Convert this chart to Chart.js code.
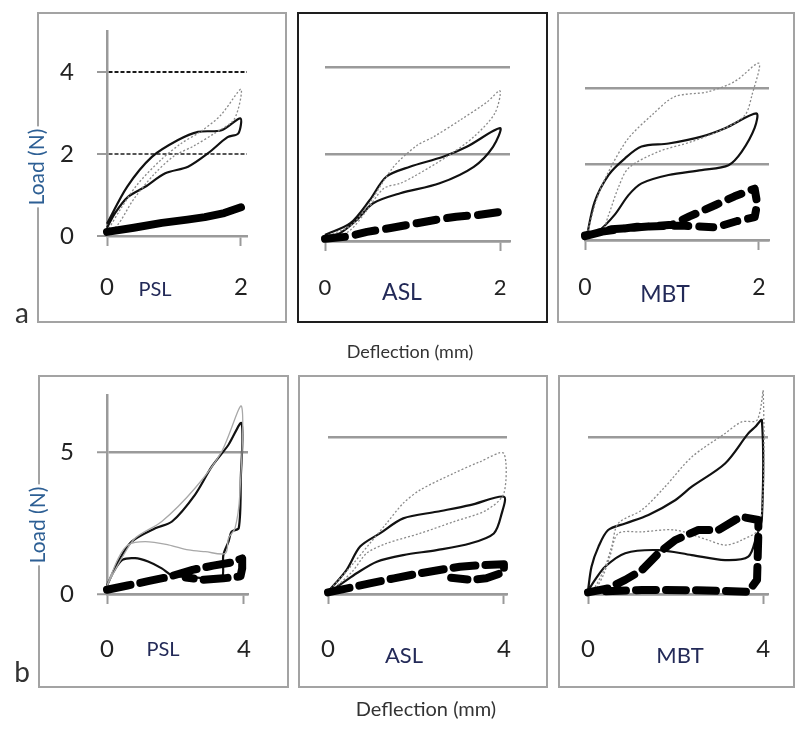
<!DOCTYPE html>
<html>
<head>
<meta charset="utf-8">
<script src="https://cdn.jsdelivr.net/npm/chart.js@4.4.1/dist/chart.umd.min.js"></script>
<style>
body { margin: 0; background: #fff; font-family: Lato, "Open Sans", sans-serif; }
#fig { position: relative; width: 795px; height: 729px; overflow: hidden; background: #fff; }
.box { position: absolute; border: 2px solid #a3a3a3; box-sizing: border-box; }
.box.dark { border-color: #1e1e1e; }
canvas { position: absolute; }
.lbl { position: absolute; white-space: nowrap; transform: translate(-50%, -50%); line-height: 1; }
</style>
</head>
<body>
<div id="fig"></div>
<script>
// load (N) vs deflection (mm): [deflection, load]
// row a: 2 mm cycles
const psl2Gray = [[0,0.1],[0.2,0.65],[0.45,1.25],[0.8,1.85],[1.1,2.25],[1.4,2.55],[1.7,2.95],[2.0,3.58],[1.9,2.85],[1.6,2.5],[1.3,2.2],[1.0,1.95],[0.7,1.5],[0.4,0.9],[0.15,0.25],[0,0.1]];
const psl2Solid = [[0,0.3],[0.3,1.2],[0.67,1.93],[1.06,2.34],[1.36,2.54],[1.71,2.58],[1.99,2.87],[1.96,2.5],[1.8,2.41],[1.51,2.02],[1.21,1.69],[0.87,1.53],[0.57,1.2],[0.31,0.95],[0.12,0.56],[0,0.2]];
const psl2Band = [[0,0.1],[0.4,0.2],[0.82,0.32],[1.2,0.4],[1.46,0.46],[1.75,0.56],[2.0,0.7]];

const asl2Gray = [[0,0.1],[0.29,0.35],[0.48,0.79],[0.78,1.7],[1.05,2.2],[1.24,2.4],[1.54,2.78],[1.85,3.2],[2.0,3.46],[1.94,2.94],[1.7,2.4],[1.39,1.94],[1.01,1.48],[0.86,1.33],[0.67,1.21],[0.48,0.71],[0.29,0.25],[0.1,0.05]];
const asl2Solid = [[0,0.14],[0.29,0.41],[0.51,0.94],[0.7,1.48],[0.97,1.71],[1.35,1.94],[1.62,2.17],[2.0,2.6],[1.92,2.17],[1.7,1.71],[1.31,1.33],[0.86,1.1],[0.55,0.87],[0.36,0.48],[0.17,0.18],[0,0.1]];
const asl2Band = [[0,0.05],[0.25,0.1],[0.48,0.21],[0.75,0.3],[1.05,0.41],[1.3,0.5],[1.5,0.56],[1.75,0.6],[2.0,0.67]];

const mbt2Gray = [[0.02,0.13],[0.15,1.18],[0.31,1.97],[0.5,2.68],[0.77,3.29],[1.03,3.77],[1.41,3.9],[1.72,4.17],[2.0,4.65],[1.92,3.82],[1.84,3.29],[1.61,2.94],[1.23,2.59],[0.84,2.32],[0.5,1.89],[0.38,1.36],[0.27,0.65],[0.19,0.22],[0.02,0.1]];
const mbt2Solid = [[0.02,0.09],[0.11,1.0],[0.27,1.71],[0.46,2.15],[0.65,2.46],[0.96,2.54],[1.34,2.72],[1.61,2.94],[1.97,3.33],[1.95,2.95],[1.8,2.32],[1.65,1.97],[1.34,1.84],[0.96,1.71],[0.65,1.49],[0.5,1.18],[0.34,0.66],[0.15,0.22],[0.02,0.09]];
const mbt2Band = [[0,0.1],[0.3,0.28],[0.65,0.34],[1.0,0.4],[1.2,0.62],[1.5,0.92],[1.72,1.15],[1.95,1.35],[1.98,0.95],[1.95,0.6],[1.75,0.5],[1.5,0.33],[1.1,0.38],[0.6,0.35],[0.2,0.22],[0,0.12]];

// row b: 4 mm cycles
const psl4Gray = [[0,0.2],[0.04,0.38],[0.43,1.26],[0.82,1.96],[1.6,2.55],[2.57,3.72],[3.35,5.01],[3.93,6.6],[3.88,3.49],[3.74,2.31],[3.55,1.96],[3.46,1.43],[2.87,1.49],[2.38,1.55],[1.79,1.73],[1.12,1.84],[0.62,1.73],[0.33,1.26],[0,0.3]];
const psl4Solid = [[0,0.3],[0.33,1.14],[0.72,1.84],[1.41,2.31],[1.9,2.55],[2.57,3.49],[3.06,4.48],[3.55,5.25],[3.93,6.01],[3.91,4.08],[3.85,2.32],[3.64,2.19],[3.55,1.84],[3.4,1.37],[3.35,0.5],[2.9,0.55],[2.3,0.6],[1.9,0.65],[1.6,0.9],[1.2,1.14],[0.82,1.26],[0.45,1.2],[0.2,0.8],[0,0.3]];
const psl4Band = [[0,0.15],[0.6,0.3],[1.2,0.45],[1.8,0.6],[2.5,0.85],[3.1,1.0],[3.6,1.1],[3.95,1.25],[3.95,0.9],[3.9,0.62],[3.4,0.55],[2.8,0.5],[2.3,0.58]];

const asl4Gray = [[0,0.07],[0.58,0.98],[0.95,1.61],[1.33,2.25],[1.71,2.89],[2.09,3.31],[2.85,3.84],[3.45,4.21],[4.0,4.48],[4.0,3.21],[3.6,2.67],[2.85,2.3],[2.09,1.93],[1.33,1.61],[0.88,1.3],[0.58,0.76],[0.27,0.34],[0,0.07]];
const asl4Solid = [[0,0.07],[0.42,0.76],[0.73,1.51],[1.18,1.93],[1.71,2.41],[2.47,2.62],[3.23,2.83],[4.0,3.1],[3.95,2.57],[3.77,1.93],[3.23,1.61],[2.47,1.4],[1.71,1.24],[1.11,1.03],[0.65,0.66],[0.27,0.29],[0,0.07]];
const asl4Band = [[0,0.05],[0.5,0.2],[0.95,0.34],[1.5,0.5],[2.09,0.66],[2.6,0.78],[3.0,0.87],[3.5,0.92],[4.0,0.95],[4.0,0.7],[3.6,0.5],[3.23,0.45],[2.8,0.52]];

const mbt4Gray = [[0,0.1],[0.16,0.23],[0.39,0.87],[0.54,1.51],[0.69,2.25],[1.23,2.68],[1.76,3.42],[2.37,4.37],[3.13,5.12],[3.51,5.49],[3.86,5.54],[4.0,6.5],[3.93,2.14],[3.51,1.72],[3.13,1.56],[2.74,1.72],[1.99,2.04],[1.23,1.98],[0.69,1.93],[0.5,1.2],[0.35,0.6],[0.2,0.2]];
const mbt4Solid = [[0,0.1],[0.08,0.87],[0.24,1.51],[0.46,2.04],[0.85,2.25],[1.38,2.52],[1.99,2.99],[2.37,3.42],[3.13,4.16],[3.66,5.12],[3.82,5.33],[3.97,5.54],[3.97,2.4],[3.85,1.85],[3.66,1.19],[3.13,1.08],[2.37,1.24],[1.61,1.4],[0.85,1.3],[0.39,0.87],[0.16,0.45],[0,0.1]];
const mbt4Band = [[0,0.05],[0.46,0.18],[0.85,0.45],[1.23,0.76],[1.61,1.3],[1.99,1.72],[2.52,2.04],[2.98,2.04],[3.36,2.36],[3.51,2.46],[3.89,2.36],[3.89,1.93],[3.86,0.45],[3.66,0.07],[2.5,0.12],[1.23,0.13],[0.3,0.08]];

const xTicks2 = [0, 2];
const xTicks4 = [0, 4];
const yTicksA = [0, 2, 4];
const yTicksB = [0, 5];
const names = ['PSL', 'ASL', 'MBT'];

// page layout (px): border box, plot area [left, top, right, bottom]
const panels = [
  { box: [37, 12, 287, 323], dark: false, area: [107, 31, 247, 236], xMax: 2.09, yMax: 5, xt: xTicks2, yt: yTicksA, axis: true, dashed: true, font: 24, xPad: 27,
    name: names[0], nameAt: [155, 288, 20], gray: psl2Gray, solid: psl2Solid, band: psl2Band, grayDash: [2, 2], bandDash: [] },
  { box: [297, 12, 548, 323], dark: true, area: [325, 24, 510, 241], xMax: 2.114, yMax: 5, xt: xTicks2, yt: yTicksA, axis: false, font: 22, xPad: 24,
    name: names[1], nameAt: [402, 291, 23], gray: asl2Gray, solid: asl2Solid, band: asl2Band, grayDash: [2, 2], bandDash: [20, 11] },
  { box: [557, 12, 795, 323], dark: false, area: [585, 50, 769, 240], xMax: 2.115, yMax: 5, xt: xTicks2, yt: yTicksA, axis: false, font: 23, xPad: 24,
    name: names[2], nameAt: [665, 293, 23], gray: mbt2Gray, solid: mbt2Solid, band: mbt2Band, grayDash: [2, 2], bandDash: [14, 11] },
  { box: [38, 375, 289, 688], dark: false, area: [107, 395, 248, 594], xMax: 4.12, yMax: 7, xt: xTicks4, yt: yTicksB, axis: true, font: 24, xPad: 31,
    name: names[0], nameAt: [163, 648, 20], gray: psl4Gray, solid: psl4Solid, band: psl4Band, grayDash: [], bandDash: [24, 10] },
  { box: [298, 375, 548, 688], dark: false, area: [328, 390, 507, 594], xMax: 4.07, yMax: 6.5, xt: xTicks4, yt: yTicksB, axis: false, font: 24, xPad: 31,
    name: names[1], nameAt: [404, 655, 22], gray: asl4Gray, solid: asl4Solid, band: asl4Band, grayDash: [2, 2], bandDash: [22, 10] },
  { box: [558, 375, 795, 688], dark: false, area: [588, 387, 768, 594], xMax: 4.11, yMax: 6.6, xt: xTicks4, yt: yTicksB, axis: false, font: 24, xPad: 31,
    name: names[2], nameAt: [680, 655, 22], gray: mbt4Gray, solid: mbt4Solid, band: mbt4Band, grayDash: [2, 2], bandDash: [20, 10] }
];

const fig = document.getElementById('fig');
const pts = arr => arr.map(p => ({ x: p[0], y: p[1] }));

function addText(txt, x, y, size, color, rotate) {
  const d = document.createElement('div');
  d.className = 'lbl';
  d.textContent = txt;
  d.style.left = x + 'px';
  d.style.top = y + 'px';
  d.style.fontSize = size + 'px';
  d.style.color = color;
  if (rotate) {
    d.style.transform = 'translate(-50%, -50%) rotate(-90deg)';
    d.style.background = '#fff';
    d.style.padding = '0 2px';
  }
  fig.appendChild(d);
}

function gridColor(p, v) {
  if (!p.dashed) return '#9a9a9a';
  if (v === 4) return '#1a1a1a';
  if (v === 2) return '#555';
  return '#9a9a9a';
}

panels.forEach((p, i) => {
  const b = document.createElement('div');
  b.className = 'box' + (p.dark ? ' dark' : '');
  b.style.left = p.box[0] + 'px';
  b.style.top = p.box[1] + 'px';
  b.style.width = (p.box[2] - p.box[0]) + 'px';
  b.style.height = (p.box[3] - p.box[1]) + 'px';
  fig.appendChild(b);

  const cl = p.box[0] + 3, ct = p.area[1] - 10;
  const cr = p.area[2] + 14, cb = p.box[3] - 3;
  const yW = p.area[0] - cl, xH = cb - p.area[3];
  const cv = document.createElement('canvas');
  cv.width = cr - cl;
  cv.height = cb - ct;
  cv.style.left = cl + 'px';
  cv.style.top = ct + 'px';
  fig.appendChild(cv);

  new Chart(cv, {
    type: 'scatter',
    data: {
      datasets: [
        { data: pts(p.band), showLine: true, borderColor: '#000', borderWidth: 8, borderDash: p.bandDash,
          borderCapStyle: 'round', borderJoinStyle: 'round', tension: 0, pointRadius: 0, clip: false },
        { data: pts(p.gray), showLine: true, borderColor: p.grayDash.length ? '#8a8a8a' : '#a8a8a8', borderWidth: 1.3,
          borderDash: p.grayDash, tension: 0.3, pointRadius: 0, clip: false },
        { data: pts(p.solid), showLine: true, borderColor: '#111', borderWidth: 2.2, tension: 0.3,
          pointRadius: 0, clip: false }
      ]
    },
    options: {
      responsive: false,
      animation: false,
      devicePixelRatio: 1,
      layout: { padding: { left: 0, top: 10, right: 14, bottom: 0 } },
      plugins: { legend: { display: false }, tooltip: { enabled: false } },
      scales: {
        x: {
          type: 'linear', min: 0, max: p.xMax,
          afterBuildTicks: s => { s.ticks = p.xt.map(v => ({ value: v })); },
          afterFit: s => { s.height = xH; s.paddingLeft = 0; s.paddingRight = 0; },
          ticks: { font: { family: 'Lato', size: p.font }, color: '#222', padding: p.xPad, maxRotation: 0 },
          grid: { drawOnChartArea: false, drawTicks: true, tickLength: 10, tickColor: '#9a9a9a', tickWidth: 2 },
          border: { display: true, color: '#9a9a9a', width: 2.5 }
        },
        y: {
          type: 'linear', min: 0, max: p.yMax,
          afterBuildTicks: s => { s.ticks = p.yt.map(v => ({ value: v })); },
          afterFit: s => { s.width = yW; s.paddingTop = 0; s.paddingBottom = 0; },
          ticks: { display: p.axis, font: { family: 'Lato', size: p.font }, color: '#222', padding: 23 },
          grid: {
            color: c => gridColor(p, c.tick.value),
            lineWidth: p.dashed ? 2 : 2.5,
            drawTicks: p.axis, tickLength: 10, tickColor: '#9a9a9a', tickWidth: 2
          },
          border: { display: p.axis, color: '#9a9a9a', width: 2.5, dash: p.dashed ? [4, 2] : [] }
        }
      }
    }
  });

  addText(p.name, p.nameAt[0], p.nameAt[1], p.nameAt[2], '#232a58');
});

addText('Load (N)', 35, 167, 21, '#2d5f94', true);
addText('Load (N)', 36, 525, 21, '#2d5f94', true);
addText('a', 22, 312, 28, '#333');
addText('b', 22, 671, 28, '#333');
addText('Deflection (mm)', 410, 351, 18, '#333');
addText('Deflection (mm)', 426, 708, 20, '#333');
</script>
</body>
</html>
